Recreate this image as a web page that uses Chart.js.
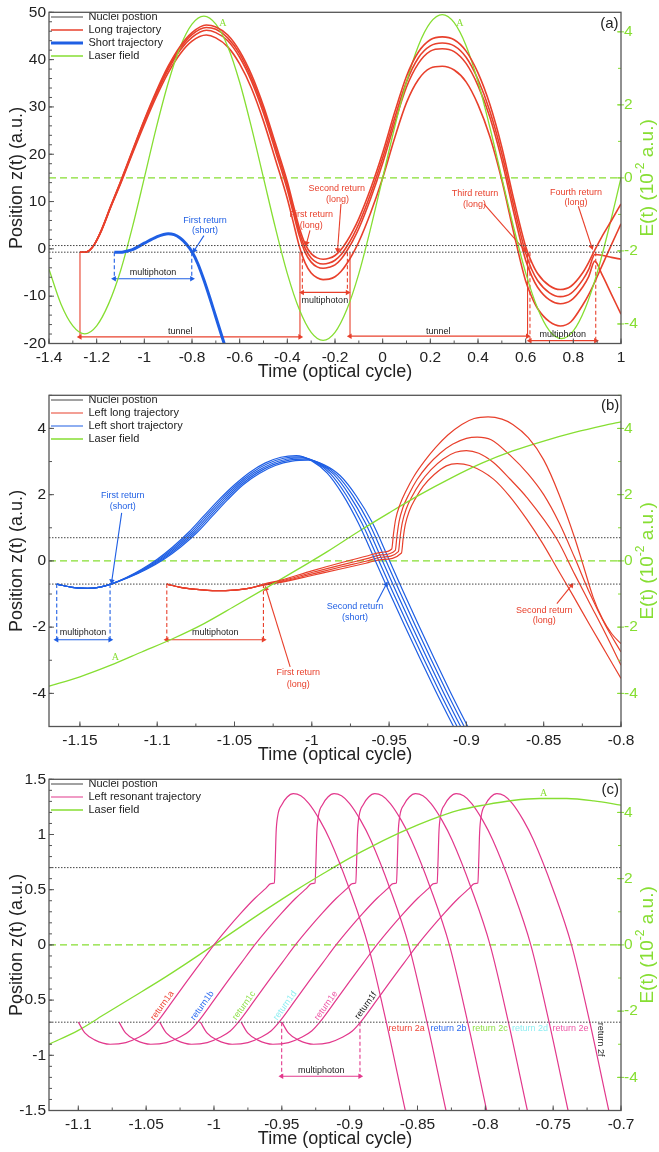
<!DOCTYPE html>
<html>
<head>
<meta charset="utf-8">
<script src="https://cdn.jsdelivr.net/npm/chart.js@4.4.1/dist/chart.umd.min.js"></script>
<style>
  html, body { margin: 0; padding: 0; background: #fff; }
  #wrap { position: relative; width: 659px; height: 1152px; }
  canvas { position: absolute; left: 0; }
</style>
</head>
<body>
<div id="wrap">
  <canvas id="chartA" width="659" height="383" style="top:0px"></canvas>
  <canvas id="chartB" width="659" height="383" style="top:383px"></canvas>
  <canvas id="chartC" width="659" height="383" style="top:767px"></canvas>
</div>
<script>
const FONT = "'Liberation Sans', Arial, Helvetica, sans-serif";
const RED = '#e8402c';
const BLUE = '#1f5fe4';
const GREEN = '#86de32';
const PINK = '#e2388c';
const INK = '#222';
const FRAME = '#555';
const RET_COLORS = ['#ef4536', '#2d6bf0', '#8fe04a', '#8feef2', '#ee5aa8', '#222'];

// ---------- shared values ----------
const nucleiZ = [0.7, -0.7];
const eTicks = [-4, -2, 0, 2, 4];

// ---------- panel (a) ----------
const aRangeX = [-1.4, 1];
const aRangeY = [-20, 50];
const aRangeE = [-4.535, 4.535];
const aTicksX = [-1.4, -1.2, -1, -0.8, -0.6, -0.4, -0.2, 0, 0.2, 0.4, 0.6, 0.8, 1];
const aTicksY = [-20, -10, 0, 10, 20, 30, 40, 50];

const aLaserT = [-1.4, -1.35, -1.3, -1.25, -1.2, -1.15, -1.1, -1.05, -1, -0.95, -0.9, -0.85, -0.8, -0.75, -0.7,
  -0.65, -0.6, -0.55, -0.5, -0.45, -0.4, -0.35, -0.3, -0.25, -0.2, -0.15, -0.1, -0.05, 0, 0.05, 0.1, 0.15,
  0.2, 0.25, 0.3, 0.35, 0.4, 0.45, 0.5, 0.55, 0.6, 0.65, 0.7, 0.75, 0.8, 0.85, 0.9, 0.95, 1];
const aLaserE = [-2.5, -3.45, -4.05, -4.27, -4.05, -3.45, -2.55, -1.35, 0, 1.37, 2.6, 3.58, 4.21, 4.43, 4.21,
  3.6, 2.62, 1.37, 0, -1.37, -2.62, -3.6, -4.23, -4.45, -4.23, -3.6, -2.62, -1.37, 0, 1.38, 2.63, 3.62,
  4.25, 4.47, 4.25, 3.62, 2.63, 1.38, 0, -1.36, -2.6, -3.57, -4.19, -4.4, -4.19, -3.57, -2.6, -1.36, 0];

const aLongT = [-1.27, -1.25, -1.23, -1.21, -1.18, -1.14, -1.1, -1.05, -1, -0.95, -0.9, -0.85, -0.8, -0.74,
  -0.7, -0.65, -0.6, -0.55, -0.5, -0.45, -0.4, -0.375, -0.35, -0.325, -0.3, -0.275, -0.25, -0.225, -0.2,
  -0.175, -0.15, -0.125, -0.1, -0.05, 0, 0.05, 0.1, 0.15, 0.2, 0.25, 0.3, 0.35, 0.4, 0.45, 0.5, 0.55, 0.6,
  0.625, 0.65, 0.7, 0.745, 0.79, 0.84, 0.865, 0.89, 0.92, 0.96, 1];
const aLong1 = [-0.7, -0.7, -0.3, 0.9, 4.0, 9.2, 14.2, 20.8, 27.3, 33.3, 38.6, 42.8, 45.7, 47.3, 46.9, 45.2,
  41.8, 36.8, 30.2, 22.3, 14.2, 9.3, 4.5, 1.0, -1.0, -1.9, -2.2, -2.0, -1.4, -0.2, 1.6, 3.8, 6.4, 12.8, 20.3,
  28.8, 36.5, 41.6, 44.2, 44.8, 44.2, 41.8, 37.2, 30.5, 21.5, 10.5, 0.5, -2.8, -5.2, -7.8, -8.6, -7.9, -5.0,
  -2.8, -0.25, 2.6, 6.0, 9.5];
const aLong2 = [-0.7, -0.7, -0.3, 0.9, 4.0, 9.1, 14.1, 20.6, 27.1, 33.0, 38.3, 42.4, 45.3, 46.8, 46.4, 44.6,
  41.2, 36.1, 29.5, 21.5, 13.4, 8.4, 3.6, 0.1, -1.95, -2.9, -3.2, -3.0, -2.4, -1.25, 0.55, 2.7, 5.3, 11.7,
  19.2, 27.6, 35.3, 40.4, 42.9, 43.5, 42.9, 40.5, 35.8, 29.1, 20.1, 9.1, -0.9, -4.3, -6.7, -9.3, -10.1, -9.4,
  -6.5, -4.3, -1.2, -1.35, -1.8, -2.2];
const aLong3 = [-0.7, -0.7, -0.3, 0.9, 3.9, 9.0, 13.9, 20.4, 26.8, 32.7, 37.9, 42.0, 44.7, 46.2, 45.7, 44.0,
  40.5, 35.4, 28.7, 20.7, 12.5, 7.6, 2.8, -0.8, -2.8, -3.8, -4.1, -3.9, -3.4, -2.2, -0.4, 1.75, 4.3, 10.7,
  18.1, 26.5, 34.2, 39.2, 41.8, 42.3, 41.7, 39.2, 34.5, 27.8, 18.7, 7.7, -2.4, -5.7, -8.1, -10.8, -11.6,
  -10.9, -8.0, -5.8, -2.6, -5.4, -9.6, -13.8];
const aLong4 = [-0.7, -0.7, -0.3, 0.9, 3.8, 8.9, 13.7, 20.1, 26.3, 32.1, 37.2, 41.2, 43.9, 45.2, 44.6, 42.7,
  39.1, 33.9, 27.0, 18.9, 10.6, 5.6, 0.6, -3.0, -5.1, -6.1, -6.5, -6.4, -5.9, -4.8, -3.1, -1.0, 1.5, 7.7,
  15.0, 23.4, 30.9, 35.8, 38.2, 38.6, 37.8, 35.3, 30.5, 23.7, 14.5, 3.4, -6.8, -10.1, -12.6, -15.4, -16.3,
  -15.4, -11.8, -9.6, -7.0, -3.6, 0.9, 5.3];

const aShortT = [-1.126, -1.1, -1.08, -1.05, -1, -0.95, -0.9, -0.875, -0.85, -0.825, -0.8, -0.775, -0.75,
  -0.725, -0.7, -0.675, -0.66];
const aShortZ = [-0.7, -0.72, -0.55, -0.15, 1.2, 2.5, 3.2, 3.0, 2.3, 1.1, -0.6, -3.2, -6.6, -10.4, -14.4,
  -18.4, -20.8];

// [start, end, level] of the double arrows
const aTunnel = [[-1.27, -0.347, -18.6], [-0.137, 0.608, -18.45]];
const aMultiLong = [[-0.337, -0.148, -9.2], [0.618, 0.894, -19.4]];
const aMultiShort = [[-1.126, -0.801, -6.3]];
// [from t, from z, to t, to z]
const aArrowsLong = [[-0.305, 3.9, -0.319, 1.2], [-0.175, 9.5, -0.189, -0.2], [0.425, 9.5, 0.597, -0.3],
  [0.821, 9.0, 0.877, 0.4]];
const aArrowsShort = [[-0.75, 2.8, -0.79, -0.3]];
const aTextLong = [['First return', -0.30, 7.2], ['(long)', -0.30, 4.9], ['Second return', -0.193, 12.7],
  ['(long)', -0.19, 10.4], ['Third return', 0.387, 11.6], ['(long)', 0.385, 9.4],
  ['Fourth return', 0.811, 11.9], ['(long)', 0.811, 9.7]];
const aTextShort = [['First return', -0.745, 6.0], ['(short)', -0.745, 3.8]];
const aTextInk = [['multiphoton', -0.9635, -5.1], ['multiphoton', -0.2425, -10.9], ['multiphoton', 0.756, -18.1],
  ['tunnel', -0.849, -17.5], ['tunnel', 0.233, -17.4]];
const aTextField = [['A', -0.671, 47.7], ['A', 0.324, 47.6]];
const aTag = ['(a)', 0.951, 47.6];

// ---------- panel (b) ----------
const bRangeX = [-1.17, -0.8];
const bRangeY = [-5, 5];
const bRangeE = [-5, 5];
const bTicksX = [-1.15, -1.1, -1.05, -1, -0.95, -0.9, -0.85, -0.8];
const bTicksY = [-4, -2, 0, 2, 4];

const bLaserT = [-1.17, -1.15, -1.13, -1.11, -1.09, -1.07, -1.05, -1.03, -1.01, -0.99, -0.97, -0.95, -0.93,
  -0.91, -0.89, -0.87, -0.85, -0.83, -0.81, -0.8];
const bLaserE = [-3.78, -3.5, -3.15, -2.75, -2.35, -1.9, -1.37, -0.83, -0.28, 0.28, 0.88, 1.45, 2.0, 2.5,
  2.95, 3.32, 3.62, 3.88, 4.1, 4.2];

const bShort1 = [[-1.165, -0.7], [-1.155, -0.8], [-1.145, -0.83], [-1.137, -0.79], [-1.13, -0.7], [-1.12, -0.5],
  [-1.11, -0.25], [-1.1, 0.05], [-1.09, 0.42], [-1.08, 0.85], [-1.07, 1.35], [-1.06, 1.85], [-1.05, 2.3],
  [-1.04, 2.68], [-1.03, 2.96], [-1.02, 3.13], [-1.01, 3.18], [-1.0, 3.02], [-0.99, 2.65], [-0.98, 2.0],
  [-0.97, 1.15], [-0.96, 0.12], [-0.95, -0.93], [-0.94, -1.95], [-0.93, -2.95], [-0.92, -3.92], [-0.91, -4.85],
  [-0.9, -5.75]];
const bShort2 = [[-1.165, -0.7], [-1.155, -0.8], [-1.145, -0.83], [-1.137, -0.79], [-1.13, -0.7], [-1.1196, -0.5],
  [-1.1092, -0.25], [-1.0989, 0.05], [-1.0887, 0.42], [-1.0786, 0.85], [-1.0686, 1.35], [-1.0586, 1.85],
  [-1.0486, 2.3], [-1.0385, 2.67], [-1.0284, 2.94], [-1.0182, 3.1], [-1.0081, 3.14], [-0.998, 2.99],
  [-0.9879, 2.63], [-0.9778, 1.99], [-0.9677, 1.15], [-0.9577, 0.12], [-0.9477, -0.93], [-0.9377, -1.95],
  [-0.9277, -2.95], [-0.9177, -3.92], [-0.9077, -4.85], [-0.8977, -5.75]];
const bShort3 = [[-1.165, -0.7], [-1.155, -0.8], [-1.145, -0.83], [-1.137, -0.79], [-1.13, -0.7], [-1.1192, -0.5],
  [-1.1084, -0.25], [-1.0978, 0.05], [-1.0874, 0.42], [-1.0772, 0.85], [-1.0672, 1.35], [-1.0572, 1.85],
  [-1.0472, 2.3], [-1.037, 2.66], [-1.0268, 2.92], [-1.0164, 3.07], [-1.0062, 3.11], [-0.996, 2.96],
  [-0.9858, 2.61], [-0.9756, 1.98], [-0.9654, 1.15], [-0.9554, 0.12], [-0.9454, -0.93], [-0.9354, -1.95],
  [-0.9254, -2.95], [-0.9154, -3.92], [-0.9054, -4.85], [-0.8954, -5.75]];
const bShort4 = [[-1.165, -0.7], [-1.155, -0.8], [-1.145, -0.83], [-1.137, -0.79], [-1.13, -0.7], [-1.1188, -0.5],
  [-1.1076, -0.25], [-1.0967, 0.05], [-1.0861, 0.42], [-1.0758, 0.85], [-1.0658, 1.35], [-1.0558, 1.85],
  [-1.0458, 2.3], [-1.0355, 2.65], [-1.0252, 2.9], [-1.0146, 3.04], [-1.0043, 3.07], [-0.994, 2.93],
  [-0.9837, 2.59], [-0.9734, 1.97], [-0.9631, 1.15], [-0.9531, 0.12], [-0.9431, -0.93], [-0.9331, -1.95],
  [-0.9231, -2.95], [-0.9131, -3.92], [-0.9031, -4.85], [-0.8931, -5.75]];
const bShort5 = [[-1.165, -0.7], [-1.155, -0.8], [-1.145, -0.83], [-1.137, -0.79], [-1.13, -0.7], [-1.1184, -0.5],
  [-1.1068, -0.25], [-1.0956, 0.05], [-1.0848, 0.42], [-1.0744, 0.85], [-1.0644, 1.35], [-1.0544, 1.85],
  [-1.0444, 2.3], [-1.034, 2.64], [-1.0236, 2.88], [-1.0128, 3.01], [-1.0024, 3.04], [-0.992, 2.9],
  [-0.9816, 2.57], [-0.9712, 1.96], [-0.9608, 1.15], [-0.9508, 0.12], [-0.9408, -0.93], [-0.9308, -1.95],
  [-0.9208, -2.95], [-0.9108, -3.92], [-0.9008, -4.85], [-0.8908, -5.75]];

const bLong1 = [[-1.0938, -0.7], [-1.085, -0.8], [-1.075, -0.86], [-1.062, -0.9], [-1.05, -0.88], [-1.04, -0.82],
  [-1.031, -0.7], [-1.02, -0.58], [-1.0, -0.3], [-0.98, -0.04], [-0.965, 0.14], [-0.955, 0.26], [-0.9483, 0.36],
  [-0.9472, 0.8], [-0.9458, 1.25], [-0.943, 1.7], [-0.939, 2.12], [-0.934, 2.55], [-0.927, 3.02], [-0.92, 3.42],
  [-0.912, 3.8], [-0.903, 4.12], [-0.895, 4.3], [-0.886, 4.35], [-0.877, 4.28], [-0.87, 4.12], [-0.86, 3.72],
  [-0.85, 3.05], [-0.84, 2.0], [-0.83, 0.7], [-0.824, -0.2], [-0.818, -1.1], [-0.812, -1.75], [-0.806, -2.2],
  [-0.8, -2.5]];
const bLong2 = [[-1.0938, -0.7], [-1.085, -0.8], [-1.075, -0.86], [-1.062, -0.9], [-1.05, -0.88], [-1.04, -0.82],
  [-1.031, -0.71], [-1.02, -0.61], [-1.0, -0.35], [-0.98, -0.11], [-0.965, 0.06], [-0.955, 0.18], [-0.946, 0.32],
  [-0.9449, 0.76], [-0.9435, 1.2], [-0.941, 1.62], [-0.937, 2.03], [-0.932, 2.45], [-0.925, 2.88], [-0.917, 3.25],
  [-0.909, 3.52], [-0.9, 3.7], [-0.893, 3.74], [-0.884, 3.66], [-0.872, 3.2], [-0.86, 2.62], [-0.85, 2.0],
  [-0.84, 1.15], [-0.83, 0.1], [-0.82, -1.0], [-0.81, -1.95], [-0.8, -2.75]];
const bLong3 = [[-1.0938, -0.7], [-1.085, -0.8], [-1.075, -0.86], [-1.062, -0.9], [-1.05, -0.88], [-1.04, -0.82],
  [-1.031, -0.72], [-1.02, -0.63], [-1.0, -0.4], [-0.98, -0.17], [-0.965, -0.01], [-0.955, 0.11], [-0.944, 0.28],
  [-0.9429, 0.72], [-0.9415, 1.15], [-0.939, 1.56], [-0.935, 1.96], [-0.93, 2.35], [-0.923, 2.75], [-0.915, 3.08],
  [-0.907, 3.28], [-0.9, 3.33], [-0.892, 3.25], [-0.8825, 2.97], [-0.872, 2.48], [-0.861, 1.92], [-0.8415, 0.66],
  [-0.83, -0.4], [-0.82, -1.3], [-0.81, -2.2], [-0.8, -3.15]];
const bLong4 = [[-1.0938, -0.7], [-1.085, -0.8], [-1.075, -0.86], [-1.062, -0.9], [-1.05, -0.88], [-1.04, -0.82],
  [-1.031, -0.73], [-1.02, -0.65], [-1.0, -0.44], [-0.98, -0.23], [-0.965, -0.07], [-0.955, 0.04], [-0.942, 0.24],
  [-0.9409, 0.68], [-0.9395, 1.1], [-0.937, 1.5], [-0.933, 1.88], [-0.928, 2.25], [-0.921, 2.6], [-0.913, 2.87],
  [-0.906, 2.94], [-0.898, 2.88], [-0.8825, 2.47], [-0.872, 1.95], [-0.861, 1.26], [-0.851, 0.55], [-0.841, -0.25],
  [-0.831, -1.05], [-0.82, -1.95], [-0.81, -2.75], [-0.8, -3.55]];

const bMultiShort = [[-1.165, -1.1305, -2.38]];
const bMultiLong = [[-1.0938, -1.0313, -2.38]];
const bArrowsShort = [[-1.123, 1.45, -1.1294, -0.61], [-0.9579, -1.25, -0.9519, -0.71]];
const bArrowsLong = [[-1.014, -3.2, -1.0296, -0.84], [-0.8415, -1.29, -0.832, -0.74]];
const bTextShort = [['First return', -1.1223, 1.96], ['(short)', -1.1223, 1.64], ['Second return', -0.972, -1.39],
  ['(short)', -0.972, -1.71]];
const bTextLong = [['First return', -1.0087, -3.38], ['(long)', -1.0087, -3.72], ['Second return', -0.8497, -1.49],
  ['(long)', -0.8497, -1.8]];
const bTextInk = [['multiphoton', -1.148, -2.15], ['multiphoton', -1.0625, -2.15]];
const bTextField = [['A', -1.127, -2.9]];
const bTag = ['(b)', -0.807, 4.67];

// ---------- panel (c) ----------
const cRangeX = [-1.1216, -0.7];
const cRangeY = [-1.5, 1.5];
const cRangeE = [-5, 5];
const cTicksX = [-1.1, -1.05, -1, -0.95, -0.9, -0.85, -0.8, -0.75, -0.7];
const cTicksY = [-1.5, -1, -0.5, 0, 0.5, 1, 1.5];

const cLaserT = [-1.1216, -1.1, -1.08, -1.06, -1.04, -1.02, -1, -0.98, -0.96, -0.94, -0.92, -0.9, -0.88, -0.86,
  -0.84, -0.82, -0.8, -0.78, -0.76, -0.74, -0.72, -0.7];
const cLaserE = [-3.0, -2.58, -2.08, -1.58, -1.08, -0.55, 0, 0.56, 1.11, 1.64, 2.14, 2.62, 3.05, 3.44, 3.78,
  4.06, 4.23, 4.36, 4.42, 4.42, 4.35, 4.22];

const cResZ = [-0.7, -0.8, -0.86, -0.9, -0.885, -0.835, -0.78, -0.7, -0.5, -0.33, -0.165, 0, 0.15, 0.29, 0.42,
  0.51, 0.555, 0.56, 0.78, 1.02, 1.17, 1.27, 1.34, 1.37, 1.35, 1.28, 1.13, 0.95, 0.5, 0, -0.7, -1.5, -1.72];
const cResTa = [-1.1, -1.095, -1.088, -1.0766, -1.065, -1.055, -1.048, -1.042, -1.03, -1.02, -1.01, -1.0, -0.99,
  -0.98, -0.97, -0.962, -0.958, -0.9555, -0.9548, -0.9542, -0.953, -0.95, -0.946, -0.9415, -0.936, -0.93, -0.922,
  -0.9145, -0.9, -0.8865, -0.873, -0.859, -0.855];
const cResTb = [-1.07, -1.065, -1.058, -1.0466, -1.035, -1.025, -1.018, -1.012, -1.0, -0.99, -0.98, -0.97, -0.96,
  -0.95, -0.94, -0.932, -0.928, -0.9255, -0.9248, -0.9242, -0.923, -0.92, -0.916, -0.9115, -0.906, -0.9, -0.892,
  -0.8845, -0.87, -0.8565, -0.843, -0.829, -0.825];
const cResTc = [-1.04, -1.035, -1.028, -1.0166, -1.005, -0.995, -0.988, -0.982, -0.97, -0.96, -0.95, -0.94, -0.93,
  -0.92, -0.91, -0.902, -0.898, -0.8955, -0.8948, -0.8942, -0.893, -0.89, -0.886, -0.8815, -0.876, -0.87, -0.862,
  -0.8545, -0.84, -0.8265, -0.813, -0.799, -0.795];
const cResTd = [-1.01, -1.005, -0.998, -0.9866, -0.975, -0.965, -0.958, -0.952, -0.94, -0.93, -0.92, -0.91, -0.9,
  -0.89, -0.88, -0.872, -0.868, -0.8655, -0.8648, -0.8642, -0.863, -0.86, -0.856, -0.8515, -0.846, -0.84, -0.832,
  -0.8245, -0.81, -0.7965, -0.783, -0.769, -0.765];
const cResTe = [-0.98, -0.975, -0.968, -0.9566, -0.945, -0.935, -0.928, -0.922, -0.91, -0.9, -0.89, -0.88, -0.87,
  -0.86, -0.85, -0.842, -0.838, -0.8355, -0.8348, -0.8342, -0.833, -0.83, -0.826, -0.8215, -0.816, -0.81, -0.802,
  -0.7945, -0.78, -0.7665, -0.753, -0.739, -0.735];
const cResTf = [-0.95, -0.945, -0.938, -0.9266, -0.915, -0.905, -0.898, -0.892, -0.88, -0.87, -0.86, -0.85, -0.84,
  -0.83, -0.82, -0.812, -0.808, -0.8055, -0.8048, -0.8042, -0.803, -0.8, -0.796, -0.7915, -0.786, -0.78, -0.772,
  -0.7645, -0.75, -0.7365, -0.723, -0.709, -0.705];

const cMulti = [[-0.9501, -0.8924, -1.19]];
const cTextInk = [['multiphoton', -0.921, -1.135]];
const cTextField = [['A', -0.757, 1.37]];
const cFirstReturns = [['return1a', -1.0381, -0.55], ['return1b', -1.0086, -0.55], ['return1c', -0.9779, -0.55],
  ['return1d', -0.9476, -0.55], ['return1e', -0.9174, -0.55], ['return1f', -0.888, -0.55]];
const cSecondReturns = [['return 2a', -0.858, -0.753], ['return 2b', -0.8271, -0.753], ['return 2c', -0.7966, -0.753],
  ['return 2d', -0.7671, -0.753], ['return 2e', -0.7372, -0.753], ['return 2f', -0.715, -0.858]];
const cTag = ['(c)', -0.708, 1.4];

// ---------- helpers ----------
const xy = (ts, vs) => ts.map((t, i) => ({x: t, y: vs[i]}));
const fromPairs = ps => ps.map(p => ({x: p[0], y: p[1]}));
const across = (range, v) => [{x: range[0], y: v}, {x: range[1], y: v}];

function curve(data, color, width, more) {
    return Object.assign({
        data: data,
        borderColor: color,
        backgroundColor: color,
        borderWidth: width,
        pointRadius: 0,
        pointHoverRadius: 0,
        cubicInterpolationMode: 'monotone',
        fill: false,
        clip: 0
    }, more || {});
}

function arrowAngle(ctx) {
    if (ctx.dataIndex === undefined) return 0;
    const ds = ctx.chart.data.datasets[ctx.datasetIndex];
    const xs = ctx.chart.scales.x;
    const ys = ctx.chart.scales[ds.yAxisID || 'y'];
    const p = ds.data[ctx.dataIndex];
    const q = ds.data[1 - ctx.dataIndex];
    if (!p || !q || !xs || !ys) return 0;
    const dx = xs.getPixelForValue(p.x) - xs.getPixelForValue(q.x);
    const dy = ys.getPixelForValue(p.y) - ys.getPixelForValue(q.y);
    return Math.atan2(dx, -dy) * 180 / Math.PI;
}

function segment(x1, y1, x2, y2, color, heads, dash) {
    return curve([{x: x1, y: y1}, {x: x2, y: y2}], color, 1.1, {
        cubicInterpolationMode: 'default',
        tension: 0,
        borderDash: dash || [],
        pointStyle: 'triangle',
        pointRadius: heads === 2 ? 3.2 : (heads === 1 ? [0, 3.2] : 0),
        pointBorderWidth: 0,
        pointBackgroundColor: color,
        pointRotation: arrowAngle
    });
}

// verticals from the nucleus line down to the level, plus a double arrow between them
function brackets(list, color, solid) {
    const out = [];
    list.forEach(b => {
        const dash = solid ? [] : [4, 2.5];
        out.push(segment(b[0], nucleiZ[1], b[0], b[2], color, 0, dash));
        out.push(segment(b[1], nucleiZ[1], b[1], b[2], color, 0, dash));
        out.push(segment(b[0], b[2], b[1], b[2], color, 2));
    });
    return out;
}

const arrows = (list, color) => list.map(a => segment(a[0], a[1], a[2], a[3], color, 1));

const notes = (list, color, size, rot, family) =>
    list.map(n => ({text: n[0], x: n[1], y: n[2], color: color, size: size || 9, rot: rot || 0, family: family}));

function makeNotes(items) {
    return {
        id: 'notes',
        afterDatasetsDraw(chart) {
            const ctx = chart.ctx;
            const xs = chart.scales.x;
            items.forEach(it => {
                const ys = chart.scales[it.axis || 'y'];
                ctx.save();
                ctx.translate(xs.getPixelForValue(it.x), ys.getPixelForValue(it.y));
                ctx.rotate(it.rot * Math.PI / 180);
                ctx.font = it.size + 'px ' + (it.family || FONT);
                ctx.fillStyle = it.color;
                ctx.textAlign = 'center';
                ctx.textBaseline = 'middle';
                ctx.fillText(it.text, 0, 0);
                ctx.restore();
            });
        }
    };
}

// box round the plot, inward tick marks and the green right-hand title
function makeFrame(minor) {
    return {
        id: 'frame',
        afterDraw(chart) {
            const ctx = chart.ctx;
            const a = chart.chartArea;
            const sc = chart.scales;
            const steps = (s, step) => {
                const out = [];
                const n0 = Math.ceil(s.min / step - 1e-6), n1 = Math.floor(s.max / step + 1e-6);
                for (let n = n0; n <= n1; n++) out.push(n * step);
                return out;
            };
            const mark = (s, values, len, side, color, out) => {
                ctx.strokeStyle = color;
                ctx.lineWidth = 1;
                ctx.beginPath();
                values.forEach(v => {
                    const p = s.getPixelForValue(v);
                    if (side === 'bottom') { ctx.moveTo(p, a.bottom); ctx.lineTo(p, a.bottom - len); }
                    if (side === 'left') { ctx.moveTo(a.left, p); ctx.lineTo(a.left + len, p); }
                    if (side === 'right') { ctx.moveTo(a.right + (out || 0), p); ctx.lineTo(a.right - len, p); }
                });
                ctx.stroke();
            };
            ctx.save();
            mark(sc.x, steps(sc.x, minor.x), 3, 'bottom', FRAME);
            mark(sc.x, sc.x.ticks.map(t => t.value), 5, 'bottom', FRAME);
            mark(sc.y, steps(sc.y, minor.y), 3, 'left', FRAME);
            mark(sc.y, sc.y.ticks.map(t => t.value), 5, 'left', FRAME);
            mark(sc.y2, steps(sc.y2, minor.y2), 3, 'right', GREEN);
            mark(sc.y2, sc.y2.ticks.map(t => t.value), 4, 'right', GREEN, 3);
            ctx.strokeStyle = FRAME;
            ctx.lineWidth = 1.3;
            ctx.strokeRect(a.left, a.top, a.right - a.left, a.bottom - a.top);

            ctx.translate(a.right + 27, (a.top + a.bottom) / 2);
            ctx.rotate(-Math.PI / 2);
            ctx.fillStyle = GREEN;
            ctx.textBaseline = 'middle';
            ctx.textAlign = 'left';
            const parts = [['E(t) (10', 19, 0], ['-2', 12, -7], [' a.u.)', 19, 0]];
            let w = 0;
            parts.forEach(p => { ctx.font = p[1] + 'px ' + FONT; w += ctx.measureText(p[0]).width; });
            let x = -w / 2;
            parts.forEach(p => {
                ctx.font = p[1] + 'px ' + FONT;
                ctx.fillText(p[0], x, p[2]);
                x += ctx.measureText(p[0]).width;
            });
            ctx.restore();
        }
    };
}

function axes(rx, ry, re, tx, ty) {
    const tickFont = {family: FONT, size: 15.5};
    const titleFont = {family: FONT, size: 18};
    const plain = {display: false, drawTicks: false};
    return {
        x: {
            type: 'linear', min: rx[0], max: rx[1],
            grid: plain, border: {display: false},
            afterBuildTicks: s => { s.ticks = tx.map(v => ({value: v})); },
            afterFit: s => { s.height = 39.5; },
            ticks: {font: tickFont, color: INK, padding: 5, autoSkip: false, maxRotation: 0, minRotation: 0,
                callback: v => String(v)},
            title: {display: true, text: 'Time (optical cycle)', font: titleFont, color: INK,
                padding: {top: 0, bottom: 0}}
        },
        y: {
            type: 'linear', position: 'left', min: ry[0], max: ry[1],
            grid: plain, border: {display: false},
            afterBuildTicks: s => { s.ticks = ty.map(v => ({value: v})); },
            afterFit: s => { s.width = 49; },
            ticks: {font: tickFont, color: INK, padding: 3, autoSkip: false, callback: v => String(v)},
            title: {display: true, text: 'Position z(t) (a.u.)', font: titleFont, color: INK,
                padding: {top: 6, bottom: 0}}
        },
        y2: {
            type: 'linear', position: 'right', min: re[0], max: re[1],
            grid: plain, border: {display: false},
            afterBuildTicks: s => { s.ticks = eTicks.map(v => ({value: v})); },
            afterFit: s => { s.width = 38; },
            ticks: {font: tickFont, color: GREEN, padding: 3, autoSkip: false, callback: v => String(v)},
            title: {display: false}
        }
    };
}

function panel(id, datasets, scales, minor, items) {
    new Chart(document.getElementById(id), {
        type: 'line',
        data: {datasets: datasets},
        options: {
            responsive: false,
            animation: false,
            events: [],
            layout: {padding: {top: 12, left: 0, right: 0, bottom: 0}},
            scales: scales,
            plugins: {
                tooltip: {enabled: false},
                legend: {
                    position: 'chartArea',
                    align: 'start',
                    // empty title only pushes the rows down into the plot box
                    title: {display: true, text: '', font: {size: 9.5, lineHeight: 1}, padding: 0},
                    labels: {
                        usePointStyle: true,
                        pointStyle: 'line',
                        pointStyleWidth: 32,
                        padding: 2,
                        color: INK,
                        font: {family: FONT, size: 11},
                        filter: (item, data) => !!data.datasets[item.datasetIndex].inLegend
                    }
                }
            }
        },
        plugins: [makeFrame(minor), makeNotes(items)]
    });
}

const dotted = {borderDash: [1.5, 1.5]};
const dashedE = {borderDash: [7, 4], yAxisID: 'y2'};

// ---------- (a) ----------
panel('chartA', [
    curve(across(aRangeX, nucleiZ[0]), '#444', 1, Object.assign({label: 'Nuclei postion', inLegend: true}, dotted)),
    curve(xy(aLongT, aLong1), RED, 1.6, {label: 'Long trajectory', inLegend: true}),
    curve(xy(aShortT, aShortZ), BLUE, 3, {label: 'Short trajectory', inLegend: true}),
    curve(xy(aLaserT, aLaserE), GREEN, 1.3, {label: 'Laser field', inLegend: true, yAxisID: 'y2'}),
    curve(across(aRangeX, nucleiZ[1]), '#444', 1, dotted),
    curve(xy(aLongT, aLong2), RED, 1.6),
    curve(xy(aLongT, aLong3), RED, 1.6),
    curve(xy(aLongT, aLong4), RED, 1.6),
    curve(across(aRangeX, 0), GREEN, 1.1, dashedE),
    ...brackets(aTunnel, RED, true),
    ...brackets(aMultiLong, RED, false),
    ...brackets(aMultiShort, BLUE, false),
    ...arrows(aArrowsLong, RED),
    ...arrows(aArrowsShort, BLUE)
], axes(aRangeX, aRangeY, aRangeE, aTicksX, aTicksY), {x: 0.1, y: 2, y2: 1}, [
    ...notes(aTextLong, RED),
    ...notes(aTextShort, BLUE),
    ...notes(aTextInk, INK),
    ...notes(aTextField, GREEN, 10, 0, 'serif'),
    ...notes([aTag], INK, 15)
]);

// ---------- (b) ----------
panel('chartB', [
    curve(across(bRangeX, nucleiZ[0]), '#444', 1, Object.assign({label: 'Nuclei postion', inLegend: true}, dotted)),
    curve(fromPairs(bLong1), RED, 1.2, {label: 'Left long trajectory', inLegend: true}),
    curve(fromPairs(bShort1), BLUE, 1.2, {label: 'Left short trajectory', inLegend: true}),
    curve(xy(bLaserT, bLaserE), GREEN, 1.3, {label: 'Laser field', inLegend: true, yAxisID: 'y2'}),
    curve(across(bRangeX, nucleiZ[1]), '#444', 1, dotted),
    curve(fromPairs(bLong2), RED, 1.2),
    curve(fromPairs(bLong3), RED, 1.2),
    curve(fromPairs(bLong4), RED, 1.2),
    curve(fromPairs(bShort2), BLUE, 1.2),
    curve(fromPairs(bShort3), BLUE, 1.2),
    curve(fromPairs(bShort4), BLUE, 1.2),
    curve(fromPairs(bShort5), BLUE, 1.2),
    curve(across(bRangeX, 0), GREEN, 1.1, dashedE),
    ...brackets(bMultiShort, BLUE, false),
    ...brackets(bMultiLong, RED, false),
    ...arrows(bArrowsShort, BLUE),
    ...arrows(bArrowsLong, RED)
], axes(bRangeX, bRangeY, bRangeE, bTicksX, bTicksY), {x: 0.025, y: 1, y2: 1}, [
    ...notes(bTextShort, BLUE),
    ...notes(bTextLong, RED),
    ...notes(bTextInk, INK),
    ...notes(bTextField, GREEN, 10, 0, 'serif'),
    ...notes([bTag], INK, 15)
]);

// ---------- (c) ----------
const cTimes = [cResTa, cResTb, cResTc, cResTd, cResTe, cResTf];
panel('chartC', [
    curve(across(cRangeX, nucleiZ[0]), '#444', 1, Object.assign({label: 'Nuclei postion', inLegend: true}, dotted)),
    curve(xy(cResTa, cResZ), PINK, 1.2, {label: 'Left resonant trajectory', inLegend: true}),
    curve(xy(cLaserT, cLaserE), GREEN, 1.3, {label: 'Laser field', inLegend: true, yAxisID: 'y2'}),
    curve(across(cRangeX, nucleiZ[1]), '#444', 1, dotted),
    ...cTimes.slice(1).map(ts => curve(xy(ts, cResZ), PINK, 1.2)),
    curve(across(cRangeX, 0), GREEN, 1.1, dashedE),
    ...brackets(cMulti, PINK, false)
], axes(cRangeX, cRangeY, cRangeE, cTicksX, cTicksY), {x: 0.025, y: 0.1, y2: 1}, [
    ...notes(cTextInk, INK),
    ...notes(cTextField, GREEN, 10, 0, 'serif'),
    ...cFirstReturns.map((r, i) => notes([r], RET_COLORS[i], 9, -54)[0]),
    ...cSecondReturns.map((r, i) => notes([r], RET_COLORS[i], 9, i === 5 ? 90 : 0)[0]),
    ...notes([cTag], INK, 15)
]);
</script>
</body>
</html>
